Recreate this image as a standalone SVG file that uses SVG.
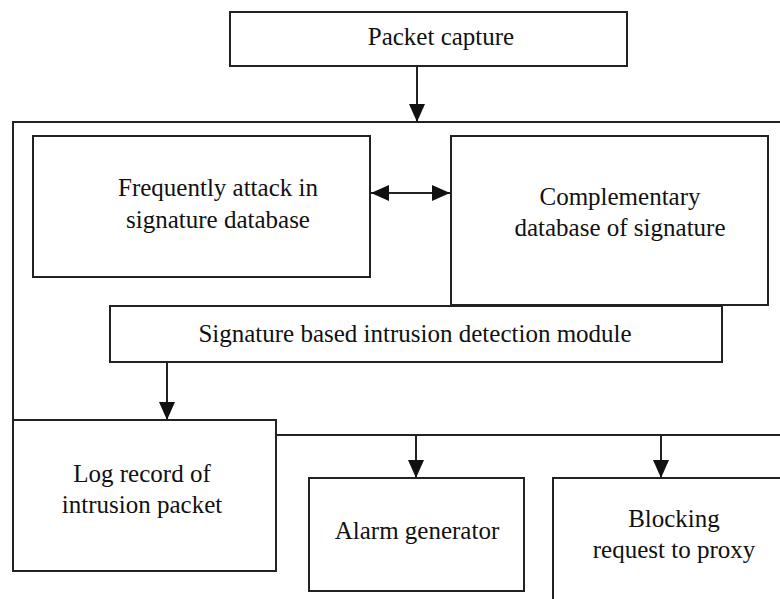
<svg xmlns="http://www.w3.org/2000/svg" width="780" height="599" viewBox="0 0 780 599">
<style>
.box{fill:#fff;stroke:#222;stroke-width:2}
.ln{fill:none;stroke:#222;stroke-width:2}
text{font-family:"Liberation Serif","Times New Roman",serif;font-size:25px;fill:#111;text-anchor:middle}
</style>
<defs>
<marker id="ah" markerWidth="18" markerHeight="18" refX="18" refY="9" orient="auto" markerUnits="userSpaceOnUse">
<path d="M0,1 L18,9 L0,17 Z" fill="#111"/>
</marker>
<marker id="ahs" markerWidth="18" markerHeight="18" refX="0" refY="9" orient="auto" markerUnits="userSpaceOnUse">
<path d="M18,1 L0,9 L18,17 Z" fill="#111"/>
</marker>
</defs>
<rect width="780" height="599" fill="#fff"/>
<g id="connectors">
<path class="ln" d="M13 420 V122 H781"/>
<path class="ln" d="M276 435 H781"/>
<path class="ln" d="M417 66 V122" marker-end="url(#ah)"/>
<path class="ln" d="M371 193 H450" marker-start="url(#ahs)" marker-end="url(#ah)"/>
<path class="ln" d="M167 362 V420" marker-end="url(#ah)"/>
<path class="ln" d="M416 435 V478" marker-end="url(#ah)"/>
<path class="ln" d="M661 435 V478" marker-end="url(#ah)"/>
</g>
<g id="packet-capture">
<rect class="box" x="230" y="12" width="397" height="54"/>
<text x="441" y="45">Packet capture</text>
</g>
<g id="frequent-attack-db">
<rect class="box" x="33" y="136" width="337" height="141"/>
<text x="218" y="196">Frequently attack in</text>
<text x="218" y="228">signature database</text>
</g>
<g id="complementary-db">
<rect class="box" x="451" y="136" width="317" height="169"/>
<text x="620" y="205">Complementary</text>
<text x="620" y="236">database of signature</text>
</g>
<g id="signature-module">
<rect class="box" x="110" y="306" width="612" height="56"/>
<text x="415" y="342">Signature based intrusion detection module</text>
</g>
<g id="log-record">
<rect class="box" x="13" y="420" width="263" height="151"/>
<text x="142" y="482">Log record of</text>
<text x="142" y="513">intrusion packet</text>
</g>
<g id="alarm-generator">
<rect class="box" x="309" y="478" width="215" height="113"/>
<text x="417" y="539">Alarm generator</text>
</g>
<g id="blocking-request">
<rect class="box" x="553" y="478" width="240" height="130"/>
<text x="674" y="527">Blocking</text>
<text x="674" y="558">request to proxy</text>
</g>
</svg>
